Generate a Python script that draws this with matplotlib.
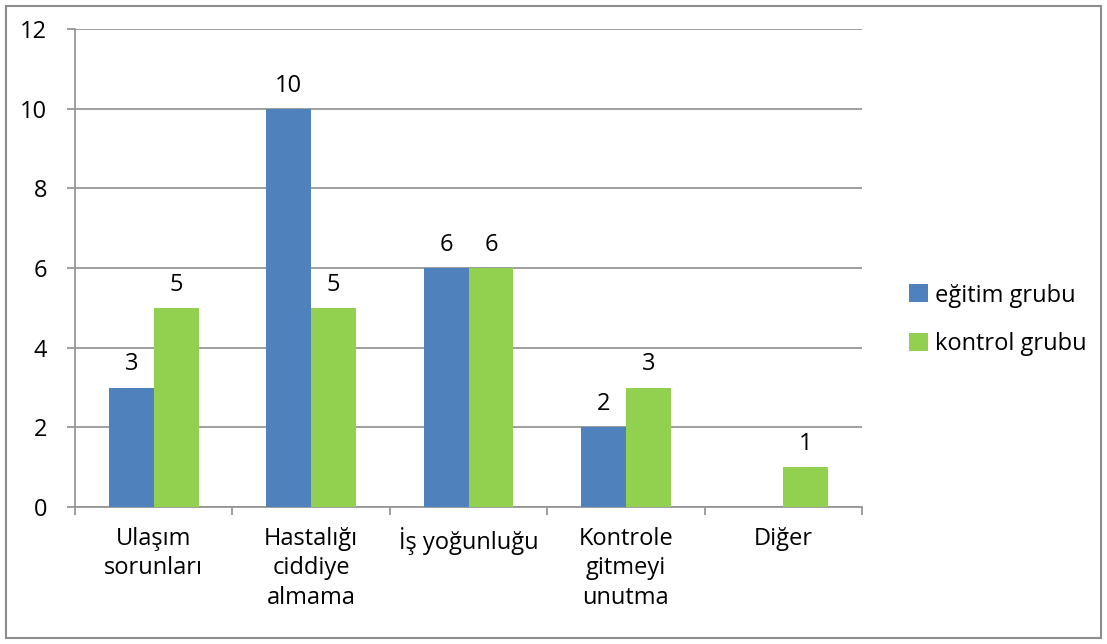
import matplotlib
matplotlib.use("Agg")
import matplotlib.pyplot as plt
import numpy as np
from matplotlib.patches import Rectangle

categories = ["Ulaşım\nsorunları", "Hastalığı\nciddiye\nalmama", "İş yoğunluğu",
              "Kontrole\ngitmeyi\nunutma", "Diğer"]
egitim = [3, 10, 6, 2, None]
kontrol = [5, 5, 6, 3, 1]
series_names = ["eğitim grubu", "kontrol grubu"]
yticks = [0, 2, 4, 6, 8, 10, 12]

blue = "#4F81BD"
green = "#92D050"
grid = "#969696"

plt.rcParams['font.family'] = ['Open Sans', 'DejaVu Sans']
W, H = 1107, 644
fig = plt.figure(figsize=(W/100, H/100), dpi=100)
ax = fig.add_axes([75/W, 1-507/H, (862-75)/W, (507-29)/H])

x = np.arange(len(categories))
w = 1/3.5
ev = [np.nan if v is None else v for v in egitim]
b1 = ax.bar(x - w/2, ev, w, color=blue, label=series_names[0], zorder=3)
b2 = ax.bar(x + w/2, kontrol, w, color=green, label=series_names[1], zorder=3)
fs = 17
for rects, vals in ((b1, egitim), (b2, kontrol)):
    for r, v in zip(rects, vals):
        if v is None:
            continue
        ax.annotate(str(v), (r.get_x() + r.get_width()/2, v), xytext=(0, 8),
                    textcoords="offset points", ha="center", va="bottom", fontsize=fs)

ax.set_xlim(-0.5, len(categories) - 0.5)
ax.set_ylim(0, 12)
ax.set_yticks(yticks)
ax.set_yticklabels([str(t) for t in yticks], fontsize=fs)
ax.yaxis.grid(True, color=grid, linewidth=1.3, zorder=0)
ax.tick_params(axis='y', length=6, color=grid, width=1.3, pad=14, direction='out')
ax.set_xticks(np.arange(-0.5, len(categories), 1.0), minor=False)
ax.set_xticklabels([])
ax.tick_params(axis='x', length=6, color=grid, width=1.3, direction='out')
for i, c in enumerate(categories):
    ax.text(i, -0.5, c, ha="center", va="top", fontsize=fs, linespacing=1.3,
            transform=ax.transData)
for s in ["top", "right"]:
    ax.spines[s].set_visible(False)
for s in ["left", "bottom"]:
    ax.spines[s].set_color(grid)
    ax.spines[s].set_linewidth(1.3)

leg = fig.legend(handles=[b1, b2], labels=series_names, loc="center left",
                 bbox_to_anchor=(888/W, 1-320/H), frameon=False, fontsize=fs,
                 handlelength=0.8, handleheight=0.8, handletextpad=0.3,
                 labelspacing=1.05)

fig.patches.append(Rectangle((6/W, 6/H), (1101-6)/W, (638-6)/H, transform=fig.transFigure,
                             fill=False, edgecolor="#8c8c8c", linewidth=1.5))
fig.savefig("out.png", dpi=100)
